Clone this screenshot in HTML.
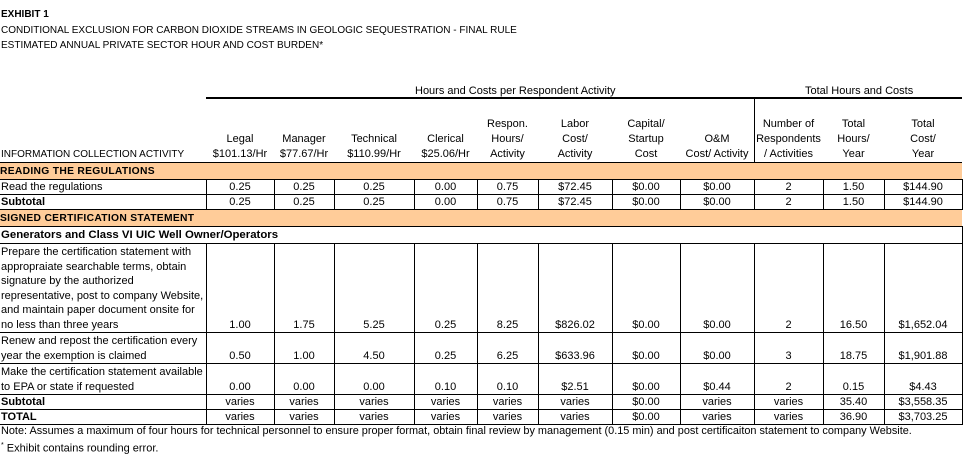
<!DOCTYPE html>
<html><head><meta charset="utf-8"><style>
body{margin:0;width:968px;height:470px;background:#fff;font-family:"Liberation Sans",Arial,sans-serif;font-size:11px;color:#000;position:relative;overflow:hidden}
.a{position:absolute;white-space:nowrap;line-height:15px}
.h{position:absolute;text-align:center;line-height:15px;top:117px}
table{position:absolute;left:0;top:162px;border-collapse:collapse;table-layout:fixed;width:962px}
td{padding:0;border:1px solid #000;line-height:15px;vertical-align:bottom;text-align:center;font-size:11px;overflow:hidden;white-space:nowrap}
td.l{text-align:left;border-left:none;padding-left:1px}
tr.m td{line-height:14.5px}
tr.p td{background:#fc9;font-weight:bold;text-align:left;height:16px;border-left:none;border-right:none;font-size:10.3px;letter-spacing:0.3px}
tr.r td{height:13px;line-height:14px}
b{font-weight:bold}
</style></head><body>
<div class="a" style="left:1px;top:7px;font-weight:bold;font-size:10px">EXHIBIT 1</div>
<div class="a" style="left:1px;top:23px;font-size:10px">CONDITIONAL EXCLUSION FOR CARBON DIOXIDE STREAMS IN GEOLOGIC SEQUESTRATION - FINAL RULE</div>
<div class="a" style="left:1px;top:38px;font-size:10px">ESTIMATED ANNUAL PRIVATE SECTOR HOUR AND COST BURDEN*</div>
<div class="a" style="left:415px;top:84px">Hours and Costs per Respondent Activity</div>
<div class="a" style="left:805px;top:84px">Total Hours and Costs</div>
<div style="position:absolute;left:206px;top:97px;width:756px;height:2px;background:#000"></div>
<div style="position:absolute;left:754px;top:99px;width:1px;height:64px;background:#000"></div>
<div class="a" style="left:1px;top:147px;font-size:10px">INFORMATION COLLECTION ACTIVITY</div>
<div class="h" style="left:206px;width:68px"><br>Legal<br>$101.13/Hr</div>
<div class="h" style="left:274px;width:60px"><br>Manager<br>$77.67/Hr</div>
<div class="h" style="left:334px;width:80px"><br>Technical<br>$110.99/Hr</div>
<div class="h" style="left:414px;width:63px"><br>Clerical<br>$25.06/Hr</div>
<div class="h" style="left:477px;width:61px">Respon.<br>Hours/<br>Activity</div>
<div class="h" style="left:538px;width:74px">Labor<br>Cost/<br>Activity</div>
<div class="h" style="left:612px;width:68px">Capital/<br>Startup<br>Cost</div>
<div class="h" style="left:680px;width:74px"><br>O&amp;M<br>Cost/ Activity</div>
<div class="h" style="left:754px;width:69px">Number of<br>Respondents<br>/ Activities</div>
<div class="h" style="left:823px;width:61px">Total<br>Hours/<br>Year</div>
<div class="h" style="left:884px;width:78px">Total<br>Cost/<br>Year</div>
<table>
<colgroup><col style="width:206px"><col style="width:68px"><col style="width:60px"><col style="width:80px"><col style="width:63px"><col style="width:61px"><col style="width:74px"><col style="width:68px"><col style="width:74px"><col style="width:69px"><col style="width:61px"><col style="width:78px"></colgroup>
<tr class="p"><td colspan="12">READING THE REGULATIONS</td></tr>
<tr class="r"><td class="l">Read the regulations</td><td>0.25</td><td>0.25</td><td>0.25</td><td>0.00</td><td>0.75</td><td>$72.45</td><td>$0.00</td><td>$0.00</td><td>2</td><td>1.50</td><td>$144.90</td></tr>
<tr class="r"><td class="l"><b>Subtotal</b></td><td>0.25</td><td>0.25</td><td>0.25</td><td>0.00</td><td>0.75</td><td>$72.45</td><td>$0.00</td><td>$0.00</td><td>2</td><td>1.50</td><td>$144.90</td></tr>
<tr class="p"><td colspan="12">SIGNED CERTIFICATION STATEMENT</td></tr>
<tr><td colspan="12" class="l" style="height:16px;font-weight:bold;font-size:11.4px">Generators and Class VI UIC Well Owner/Operators</td></tr>
<tr class="m"><td class="l" style="height:88px">Prepare the certification statement with<br>appropraiate searchable terms, obtain<br>signature by the authorized<br>representative, post to company Website,<br>and maintain paper document onsite for<br>no less than three years</td><td>1.00</td><td>1.75</td><td>5.25</td><td>0.25</td><td>8.25</td><td>$826.02</td><td>$0.00</td><td>$0.00</td><td>2</td><td>16.50</td><td>$1,652.04</td></tr>
<tr class="m"><td class="l" style="height:30px">Renew and repost the certification every<br>year the exemption is claimed</td><td>0.50</td><td>1.00</td><td>4.50</td><td>0.25</td><td>6.25</td><td>$633.96</td><td>$0.00</td><td>$0.00</td><td>3</td><td>18.75</td><td>$1,901.88</td></tr>
<tr class="m"><td class="l" style="height:30px">Make the certification statement available<br>to EPA or state if requested</td><td>0.00</td><td>0.00</td><td>0.00</td><td>0.10</td><td>0.10</td><td>$2.51</td><td>$0.00</td><td>$0.44</td><td>2</td><td>0.15</td><td>$4.43</td></tr>
<tr class="r"><td class="l"><b>Subtotal</b></td><td>varies</td><td>varies</td><td>varies</td><td>varies</td><td>varies</td><td>varies</td><td>$0.00</td><td>varies</td><td>varies</td><td>35.40</td><td>$3,558.35</td></tr>
<tr class="r"><td class="l"><b>TOTAL</b></td><td>varies</td><td>varies</td><td>varies</td><td>varies</td><td>varies</td><td>varies</td><td>$0.00</td><td>varies</td><td>varies</td><td>36.90</td><td>$3,703.25</td></tr>
</table>
<div class="a" style="left:1px;top:424px;font-size:10.9px">Note: Assumes a maximum of four hours for technical personnel to ensure proper format, obtain final review by management (0.15 min) and post certificaiton statement to company Website.</div>
<div class="a" style="left:1px;top:438px"><sup style="font-size:7px">*</sup> Exhibit contains rounding error.</div>
</body></html>
